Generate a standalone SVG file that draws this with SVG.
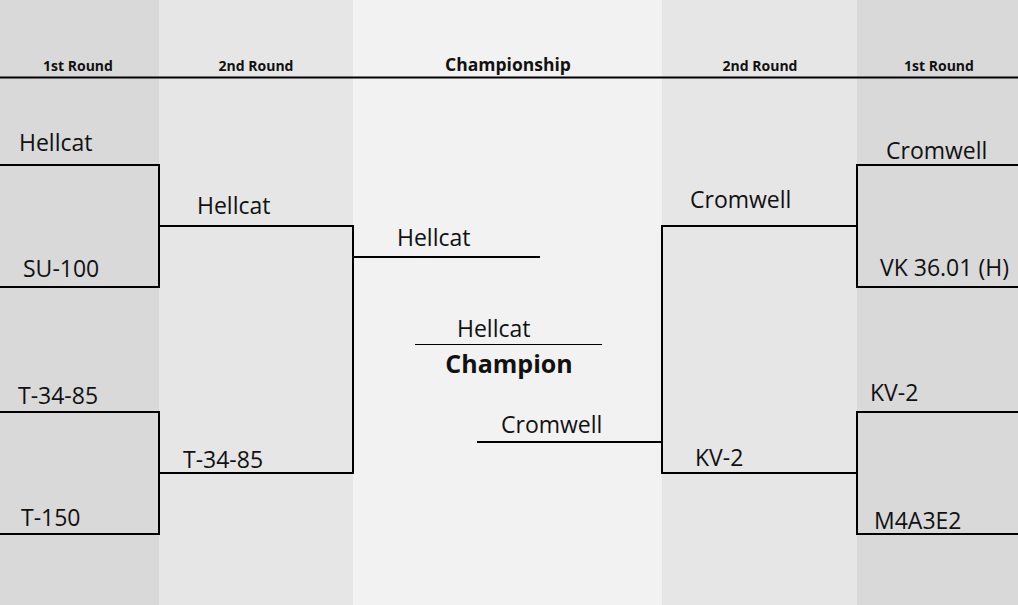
<svg xmlns="http://www.w3.org/2000/svg" width="1018" height="605" viewBox="0 0 1018 605">
<style>
.c1{fill:#d9d9d9}.c2{fill:#e6e6e6}.c3{fill:#f2f2f2}
.ln{stroke:#000;stroke-width:2;fill:none}
.thin{stroke:#000;stroke-width:1;fill:none}
.hd{font-family:"Open Sans","Liberation Sans",sans-serif;font-weight:bold;font-size:14px;fill:#111;text-anchor:middle}
.nm{font-family:"Open Sans","Liberation Sans",sans-serif;font-size:23px;fill:#111}
.big{font-family:"Open Sans","Liberation Sans",sans-serif;font-weight:bold;font-size:25px;fill:#111;text-anchor:middle}
</style>
<g id="background">
<rect class="c1" x="0" y="0" width="159" height="605"/>
<rect class="c2" x="159" y="0" width="194" height="605"/>
<rect class="c3" x="353" y="0" width="309" height="605"/>
<rect class="c2" x="662" y="0" width="195" height="605"/>
<rect class="c1" x="857" y="0" width="161" height="605"/>
</g>
<g id="headers">
<text class="hd" x="78" y="71">1st Round</text>
<text class="hd" x="256" y="71">2nd Round</text>
<text class="hd" x="508" y="71" style="font-size:17.5px">Championship</text>
<text class="hd" x="760" y="71">2nd Round</text>
<text class="hd" x="939" y="71">1st Round</text>
<line class="ln" x1="0" y1="77.5" x2="1018" y2="77.5"/>
</g>
<g id="connectors">
<path class="ln" d="M0 165H159V287H0"/>
<path class="ln" d="M0 412H159V534H0"/>
<path class="ln" d="M159 226H353V473H159"/>
<path class="ln" d="M353 257H540"/>
<path class="thin" d="M415 344.5H602"/>
<path class="ln" d="M477 442H662"/>
<path class="ln" d="M857 226H662V473H857"/>
<path class="ln" d="M1018 165H857V287H1018"/>
<path class="ln" d="M1018 412H857V534H1018"/>
</g>
<g id="left-r1">
<text class="nm" x="19" y="151">Hellcat</text>
<text class="nm" x="23" y="277">SU-100</text>
<text class="nm" x="18" y="404">T-34-85</text>
<text class="nm" x="21" y="526">T-150</text>
</g>
<g id="left-r2">
<text class="nm" x="197" y="214">Hellcat</text>
<text class="nm" x="183" y="468">T-34-85</text>
</g>
<g id="championship">
<text class="nm" x="397" y="246">Hellcat</text>
<text class="nm" x="457" y="337">Hellcat</text>
<text class="big" x="509" y="373">Champion</text>
<text class="nm" x="501" y="433">Cromwell</text>
</g>
<g id="right-r2">
<text class="nm" x="690" y="208">Cromwell</text>
<text class="nm" x="695" y="466">KV-2</text>
</g>
<g id="right-r1">
<text class="nm" x="886" y="159">Cromwell</text>
<text class="nm" x="880" y="276">VK 36.01 (H)</text>
<text class="nm" x="870" y="401">KV-2</text>
<text class="nm" x="874" y="529">M4A3E2</text>
</g>
</svg>
